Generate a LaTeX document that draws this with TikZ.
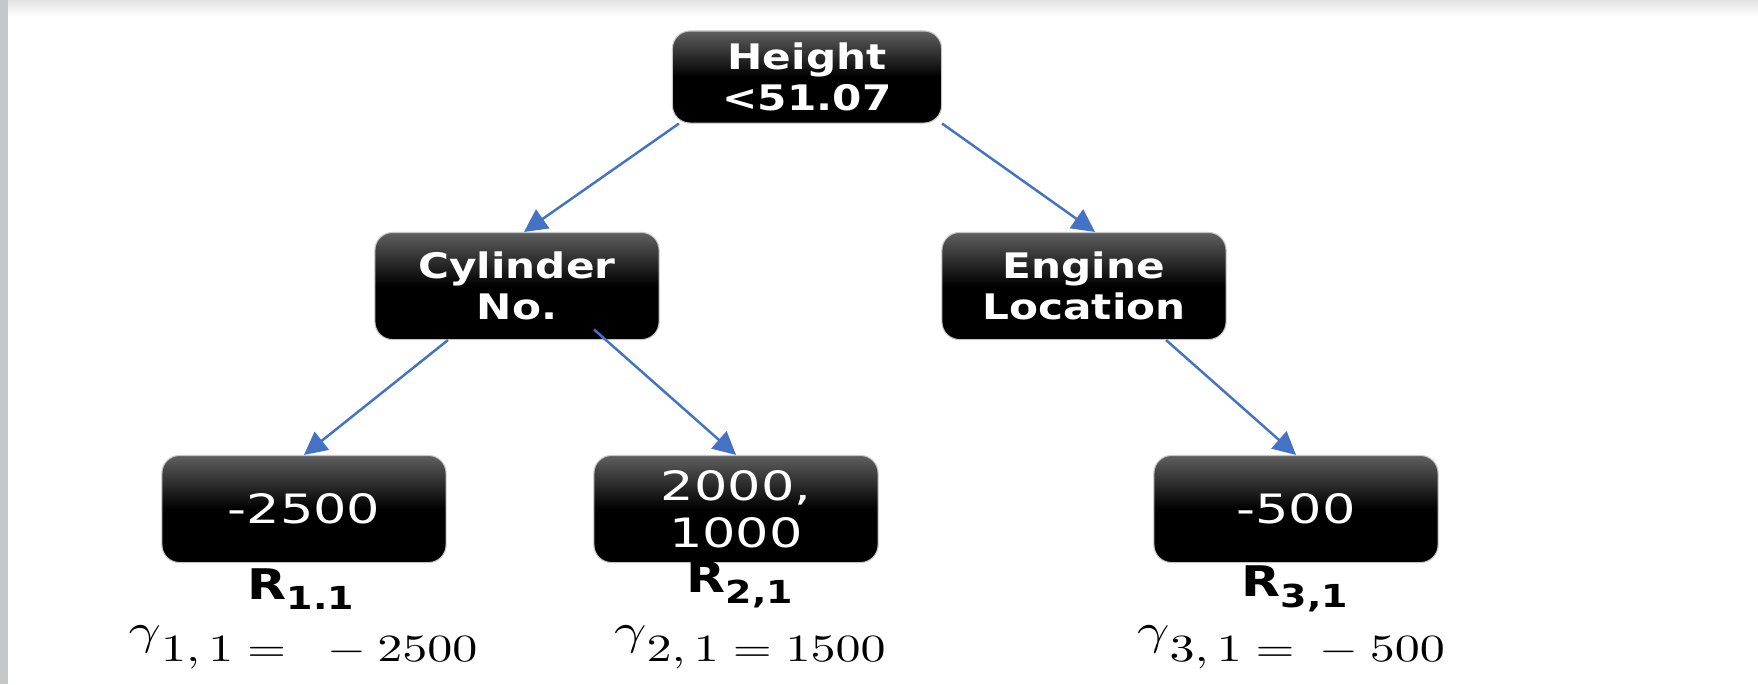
\documentclass[tikz,border=0pt]{standalone}
\usepackage{fontspec}
\usepackage{tikz}
\usetikzlibrary{arrows.meta, positioning, calc}
\usepackage{amsmath}
\usepackage{graphicx}
\newfontfamily\boxfont[FakeStretch=1.2]{DejaVu Sans}
\newfontfamily\leaffont[FakeStretch=1.3]{DejaVu Sans}
\definecolor{EdgeBlue}{RGB}{68,114,196}
\definecolor{FrameGrey}{RGB}{196,200,200}
\definecolor{BoxTop}{RGB}{95,95,95}
\newcommand{\regsub}[1]{\raisebox{-0.45ex}{\fontsize{9}{10}\selectfont #1}}
\newcommand{\gamwide}[1]{\scalebox{1.3}[1]{#1}}
\newcommand{\hgam}{\raisebox{0.46em}{\scalebox{1.13}{$\gamma$}}}

\begin{document}
\begin{tikzpicture}[x=0.01cm, y=-0.01cm,
          split/.style={rectangle, rounded corners=5pt, draw=gray!45,
                        line width=0.3pt, top color=BoxTop,
                        bottom color=black, middle color=black,
                        text=white, minimum width=2.84cm,
                        minimum height=1.07cm, align=center,
                        font=\boxfont\bfseries\fontsize{10}{11.5}\selectfont},
          leaf/.style={split, font=\leaffont\fontsize{11.5}{13.5}\selectfont},
          region/.style={font=\boxfont\bfseries\fontsize{12}{14}\selectfont},
          gam/.style={anchor=base, font=\fontsize{10.5}{12}\selectfont},
          arr/.style={-{Triangle[length=6.5pt, width=6.5pt]}, EdgeBlue, line width=0.7pt}
        ]
        \useasboundingbox (0,0) rectangle (1758,684);
        % frame
        \fill[white] (0,0) rectangle (1758,684);
        \shade[top color=gray!22, bottom color=white] (0,0) rectangle (1758,16);
        \fill[FrameGrey] (0,0) rectangle (8,684);

        % tree
        \node[split, minimum width=2.69cm, minimum height=0.92cm] (root) at (807,77) {Height\\<51.07};
        \node[split] (cyl) at (517,286) {Cylinder\\No.};
        \node[split] (eng) at (1084,286) {Engine\\Location};
        \node[leaf] (l1) at (304,509) {-2500};
        \node[leaf] (l2) at (736,509) {2000,\\1000};
        \node[leaf] (l3) at (1296,509) {-500};

        \draw[arr] ([xshift=2pt]root.south west) -- ([xshift=0.07cm]cyl.north);
        \draw[arr] (root.south east) -- ([xshift=0.11cm]eng.north);
        \draw[arr] ([xshift=-0.69cm]cyl.south) -- (l1.north);
        \draw[arr] ([xshift=0.77cm, yshift=3pt]cyl.south) -- (l2.north);
        \draw[arr] ([xshift=0.82cm]eng.south) -- (l3.north);

        % regions and leaf values
        \node[region] (r1) at (301,589) {R\regsub{1.1}};
        \node[region] (r2) at (740,585) {R\regsub{2,1}};
        \node[region] (r3) at (1295,589) {R\regsub{3,1}};
        \node[gam] (g1) at (303,661) {\gamwide{\hgam$1,1 =\ {}-2500$}};
        \node[gam] (g2) at (750,661) {\gamwide{\hgam$2,1 = 1500$}};
        \node[gam] (g3) at (1291,661) {\gamwide{\hgam$3,1 = {}-500$}};
      \end{tikzpicture}
\end{document}
